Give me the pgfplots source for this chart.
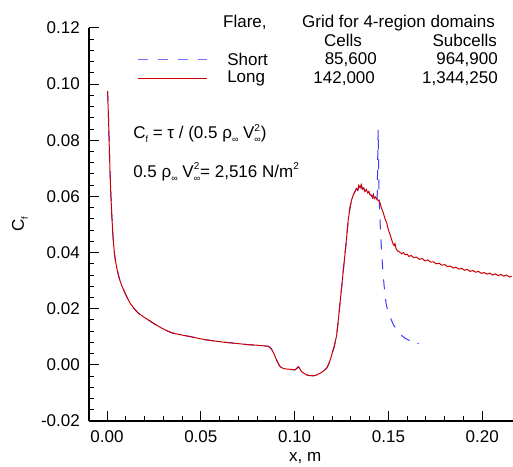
\documentclass[border=0pt]{standalone}
\usepackage{fontspec}
\setmainfont{Liberation Sans}
\usepackage{pgfplots}
\pgfplotsset{compat=1.18}
\usepackage{pgfplotstable}

\newcommand{\mysub}[1]{\raisebox{-0.45ex}{\fontsize{9}{9}\selectfont #1}}
\newcommand{\mysup}[1]{\raisebox{0.85ex}{\fontsize{10}{10}\selectfont #1}}
\newcommand{\supsub}[2]{\makebox[0pt][l]{\mysup{#1}}\mysub{#2}}

\definecolor{cred}{RGB}{204,0,0}
\definecolor{cblue}{RGB}{60,60,255}
\definecolor{clegblue}{RGB}{110,110,255}

\pgfplotstableread{
x y
0.0003 0.0975
0.0008 0.0880
0.0012 0.0780
0.0016 0.0690
0.0020 0.0615
0.0025 0.0540
0.0030 0.0478
0.0035 0.0430
0.0040 0.0395
0.0046 0.0367
0.0053 0.0342
0.0060 0.0322
0.0069 0.0300
0.0080 0.0280
0.0096 0.0256
0.0110 0.0236
0.0123 0.0220
0.0145 0.0200
0.0167 0.0184
0.0195 0.0171
0.0220 0.0160
0.0255 0.0145
0.0291 0.0131
0.0318 0.0122
0.0335 0.0117
0.0353 0.0113
0.0400 0.0106
0.0442 0.0101
0.0490 0.0094
0.0530 0.0089
0.0575 0.0085
0.0620 0.0081
0.0665 0.0078
0.0709 0.0075
0.0750 0.0072
0.0798 0.0070
0.0833 0.0068
0.0860 0.0066
0.0875 0.0058
0.0890 0.0040
0.0905 0.0015
0.0922 -0.0006
0.0940 -0.0013
0.0958 -0.0015
0.0980 -0.0016
0.1002 -0.0018
0.1012 -0.0012
0.1020 -0.0007
0.1028 -0.0014
0.1037 -0.0024
0.1050 -0.0030
0.1064 -0.0036
0.1080 -0.0038
0.1100 -0.0039
0.1118 -0.0036
0.1135 -0.0030
0.1150 -0.0024
0.1171 -0.0012
0.1185 0.0008
0.1198 0.0036
0.1212 0.0068
0.1224 0.0105
0.1233 0.0160
0.1242 0.0220
0.1251 0.0279
0.1260 0.0340
0.1269 0.0398
0.1278 0.0460
0.1286 0.0517
0.1295 0.0560
0.1304 0.0588
0.1313 0.0606
0.1322 0.0618
0.1330 0.0628
0.1337 0.0622
0.1342 0.0640
0.1349 0.0630
0.1355 0.0642
0.1361 0.0626
0.1368 0.0630
0.1375 0.0618
0.1382 0.0625
0.1390 0.0612
0.1396 0.0618
0.1402 0.0606
0.1410 0.0604
0.1415 0.0596
0.1420 0.0606
0.1425 0.0592
0.1432 0.0598
0.1440 0.0588
}\common

\pgfplotstableread{
x y
0.1440 0.0588
0.1448 0.0585
0.1455 0.0578
0.1462 0.0560
0.1473 0.0541
0.1482 0.0520
0.1491 0.0505
0.1500 0.0480
0.1510 0.0462
0.1517 0.0446
0.1525 0.0430
0.1530 0.0425
0.1535 0.0432
0.1540 0.0415
0.1548 0.0406
0.1560 0.0402
0.1570 0.0396
0.1580 0.0400
0.1590 0.0392
0.1600 0.0394
0.1610 0.0386
0.1620 0.0390
0.1635 0.0382
0.1650 0.0384
0.1665 0.0376
0.1680 0.0379
0.1695 0.0370
0.1710 0.0374
0.1725 0.0366
0.1740 0.0367
0.1755 0.0360
0.1770 0.0362
0.1785 0.0355
0.1800 0.0357
0.1815 0.0350
0.1830 0.0352
0.1845 0.0345
0.1860 0.0348
0.1875 0.0341
0.1890 0.0344
0.1905 0.0337
0.1920 0.0340
0.1935 0.0333
0.1950 0.0336
0.1965 0.0330
0.1980 0.0333
0.1995 0.0326
0.2010 0.0329
0.2025 0.0323
0.2040 0.0327
0.2055 0.0320
0.2070 0.0324
0.2085 0.0318
0.2100 0.0322
0.2115 0.0316
0.2130 0.0320
0.2145 0.0313
0.2157 0.0315
}\redtail

\pgfplotstableread{
x y
0.1440 0.0588
0.1445 0.0838
0.1450 0.0600
0.1455 0.0520
0.1459 0.0457
0.1465 0.0390
0.1470 0.0339
0.1476 0.0290
0.1482 0.0244
0.1490 0.0210
0.1500 0.0188
0.1508 0.0172
0.1525 0.0145
0.1544 0.0125
0.1565 0.0108
0.1588 0.0095
0.1605 0.0089
0.1624 0.0083
0.1642 0.0089
0.1660 0.0075
}\bluetail

\begin{document}
\begin{tikzpicture}[font=\fontsize{17}{20}\selectfont]
\begin{axis}[
  scale only axis,
  width=424pt, height=393pt,
  xmin=-0.0096, xmax=0.2164,
  ymin=-0.02, ymax=0.12,
  axis lines=left,
  axis line style={-, line width=1.2pt},
  tick align=inside,
  major tick length=10pt,
  minor tick length=5pt,
  every tick/.style={black, line width=1pt},
  xtick={0,0.05,0.10,0.15,0.20},
  xticklabels={0.00,0.05,0.10,0.15,0.20},
  ytick={-0.02,0,0.02,0.04,0.06,0.08,0.10,0.12},
  yticklabels={-0.02,0.00,0.02,0.04,0.06,0.08,0.10,0.12},
  minor x tick num=4,
  minor y tick num=4,
  xticklabel style={anchor=center, inner sep=0pt, yshift=-16pt},
  yticklabel style={anchor=east, inner sep=0pt, xshift=-9pt},
  xlabel={x, m},
  ylabel={C\mysub{f}},
  xlabel style={at={(axis description cs:0.51,0)}, anchor=center, yshift=-37pt},
  ylabel style={at={(axis description cs:-0.163,0.5)}, anchor=center},
  clip=false,
]
\coordinate (O) at (rel axis cs:0,0);
\addplot[cblue, line width=1pt, dash pattern=on 10pt off 10pt] table[x=x,y=y] {\common};
\addplot[cblue, line width=1pt, dash pattern=on 10pt off 10pt] table[x=x,y=y] {\bluetail};
\addplot[cred, line width=1pt] table[x=x,y=y] {\common};
\addplot[cred, line width=1pt] table[x=x,y=y] {\redtail};

% legend
\draw[clegblue, line width=1pt, dash pattern=on 10pt off 10pt] (axis cs:0.0165,0.1087) -- (axis cs:0.0533,0.1087);
\draw[cred, line width=1pt] (axis cs:0.0165,0.1020) -- (axis cs:0.0533,0.1020);
\node[anchor=west, inner sep=0pt] at (axis cs:0.0618,0.1219) {Flare,};
\node[anchor=west, inner sep=0pt] at (axis cs:0.1039,0.1219) {Grid for 4-region domains};
\node[anchor=center, inner sep=0pt] at (axis cs:0.1258,0.1155) {Cells};
\node[anchor=east, inner sep=0pt] at (axis cs:0.2079,0.1155) {Subcells};
\node[anchor=west, inner sep=0pt] at (axis cs:0.0640,0.1087) {Short};
\node[anchor=east, inner sep=0pt] at (axis cs:0.1439,0.1087) {85,600};
\node[anchor=east, inner sep=0pt] at (axis cs:0.2084,0.1087) {964,900};
\node[anchor=west, inner sep=0pt] at (axis cs:0.0640,0.1020) {Long};
\node[anchor=east, inner sep=0pt] at (axis cs:0.1429,0.1020) {142,000};
\node[anchor=east, inner sep=0pt] at (axis cs:0.2084,0.1020) {1,344,250};

% formulas
\node[anchor=west, inner sep=0pt] at (axis cs:0.0139,0.0824) {C\mysub{f} = τ / (0.5 ρ\mysub{∞} V\supsub{2}{∞})};
\node[anchor=west, inner sep=0pt] at (axis cs:0.0139,0.0688) {0.5 ρ\mysub{∞} V\supsub{2}{∞}= 2,516 N/m\mysup{2}};
\end{axis}
\pgfresetboundingbox
\path ([shift={(-89pt,-45pt)}]O) rectangle ([shift={(424pt,421pt)}]O);
\end{tikzpicture}
\end{document}
